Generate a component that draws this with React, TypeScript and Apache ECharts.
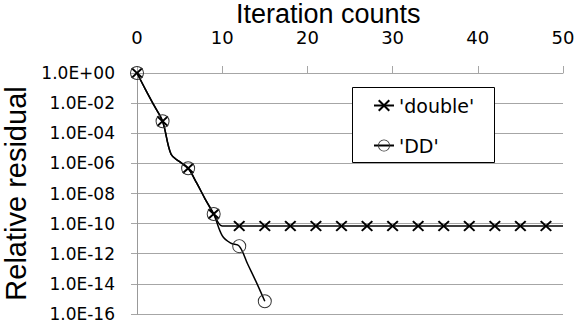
import React, { useEffect, useRef } from "react";
import * as echarts from "echarts";

// Iteration counts (x) for the 'double' run
const doubleIterations = [
  0, 1, 2, 3, 4, 5, 6, 7, 8, 9, 10, 11, 12, 13, 14, 15, 16, 17, 18, 19, 20, 21, 22, 23, 24, 25,
  26, 27, 28, 29, 30, 31, 32, 33, 34, 35, 36, 37, 38, 39, 40, 41, 42, 43, 44, 45, 46, 47, 48, 49, 50,
];
// Relative residual for 'double'
const doubleResidual = [
  1, 7.9e-2, 7e-3, 6.3e-4, 4e-6, 1.3e-6, 4.7e-7, 5e-8, 4.3e-9, 4.4e-10,
  7e-11, 7e-11, 7e-11, 7e-11, 7e-11, 7e-11, 7e-11, 7e-11, 7e-11, 7e-11,
  7e-11, 7e-11, 7e-11, 7e-11, 7e-11, 7e-11, 7e-11, 7e-11, 7e-11, 7e-11,
  7e-11, 7e-11, 7e-11, 7e-11, 7e-11, 7e-11, 7e-11, 7e-11, 7e-11, 7e-11,
  7e-11, 7e-11, 7e-11, 7e-11, 7e-11, 7e-11, 7e-11, 7e-11, 7e-11, 7e-11,
  7e-11,
];
// Iteration counts (x) for the 'DD' run
const ddIterations = [0, 1, 2, 3, 4, 5, 6, 7, 8, 9, 10, 11, 12, 13, 14, 15];
// Relative residual for 'DD'
const ddResidual = [
  1, 7.9e-2, 7e-3, 6.3e-4, 4e-6, 1.3e-6, 4.7e-7, 5e-8, 4.3e-9, 4.4e-10,
  1.6e-11, 5e-12, 3.2e-12, 2e-13, 1.3e-14, 7e-16,
];
// Iterations that carry a marker
const markerIterations = [0, 3, 6, 9, 12, 15, 18, 21, 24, 27, 30, 33, 36, 39, 42, 45, 48];

const xTicks = [0, 10, 20, 30, 40, 50];

const CROSS =
  "path://M1.2,0 L5,3.8 L8.8,0 L10,1.2 L6.2,5 L10,8.8 L8.8,10 L5,6.2 L1.2,10 L0,8.8 L3.8,5 L0,1.2 Z";
const RING =
  "path://M10,0 A10,10 0 1,1 10,20 A10,10 0 1,1 10,0 Z M10,1.4 A8.6,8.6 0 1,0 10,18.6 A8.6,8.6 0 1,0 10,1.4 Z";

function fmtExp(v: number): string {
  const e = Math.round(Math.log10(v));
  const s = e < 0 ? "-" : "+";
  return "1.0E" + s + String(Math.abs(e)).padStart(2, "0");
}

export default function App() {
  const ref = useRef<HTMLDivElement>(null);
  useEffect(() => {
    document.body.style.margin = "0";
    if (!ref.current) return;
    const chart = echarts.init(ref.current, undefined, { renderer: "svg" });
    const build = (xs: number[], ys: number[]) =>
      xs.map((x, i) => ({
        value: [x, ys[i]],
        symbol: markerIterations.includes(x) ? undefined : "none",
      }));
    const grey = "#a6a6a6";
    chart.setOption({
      animation: false,
      backgroundColor: "#ffffff",
      title: {
        text: "Iteration counts",
        left: 236,
        top: 0,
        padding: 0,
        textStyle: {
          fontFamily: "Liberation Sans",
          fontSize: 27,
          fontWeight: "normal",
          color: "#000",
        },
      },
      grid: {
        left: 137,
        right: 11,
        top: 73,
        bottom: 17,
        containLabel: false,
        outerBoundsMode: "none",
      },
      xAxis: {
        type: "value",
        position: "top",
        min: xTicks[0],
        max: xTicks[xTicks.length - 1],
        interval: 10,
        axisLine: { show: true, onZero: false, lineStyle: { color: grey, width: 1 } },
        axisTick: { show: true, length: 7, lineStyle: { color: grey } },
        splitLine: { show: false },
        axisLabel: {
          margin: 27,
          fontFamily: "DejaVu Sans",
          fontSize: 18,
          color: "#000",
        },
      },
      yAxis: {
        type: "log",
        logBase: 10,
        min: 1e-16,
        max: 1,
        interval: 2,
        splitNumber: 8,
        name: "Relative residual",
        nameLocation: "middle",
        nameGap: 104,
        nameRotate: 90,
        nameTextStyle: {
          fontFamily: "Liberation Sans",
          fontSize: 29,
          color: "#000",
        },
        axisLine: { show: true, lineStyle: { color: "#999", width: 1 } },
        axisTick: { show: true, length: 6, lineStyle: { color: grey } },
        splitLine: { show: true, lineStyle: { color: grey, width: 1 } },
        minorTick: { show: false },
        axisLabel: {
          margin: 22,
          fontFamily: "DejaVu Sans",
          fontSize: 17,
          color: "#000",
          formatter: (v: number) => fmtExp(v),
        },
      },
      graphic: [
        {
          type: "rect",
          z: 3,
          shape: { x: 352.5, y: 87.5, width: 142, height: 75 },
          style: { fill: "#fff", stroke: "#000", lineWidth: 1 },
        },
      ],
      legend: {
        z: 6,
        orient: "vertical",
        left: 373,
        top: 96,
        padding: 0,
        itemWidth: 20,
        itemHeight: 15,
        itemGap: 21,
        textStyle: {
          fontFamily: "DejaVu Sans",
          fontSize: 19,
          lineHeight: 15,
          color: "#000",
        },
        data: ["'double'", "'DD'"],
      },
      series: [
        {
          name: "'double'",
          type: "line",
          smooth: 0.35,
          symbol: CROSS,
          symbolSize: [12, 11],
          showAllSymbol: true,
          itemStyle: { color: "#000" },
          lineStyle: { color: "#000", width: 1.5 },
          data: build(doubleIterations, doubleResidual),
          z: 2,
        },
        {
          name: "'DD'",
          type: "line",
          smooth: 0.35,
          symbol: RING,
          symbolSize: 14,
          showAllSymbol: true,
          itemStyle: { color: "#333" },
          lineStyle: { color: "#000", width: 1.5 },
          data: build(ddIterations, ddResidual),
          z: 2,
        },
      ],
    });
    return () => chart.dispose();
  }, []);
  return (
    <div
      ref={ref}
      style={{ position: "fixed", left: 0, top: 0, width: 574, height: 331 }}
    />
  );
}
